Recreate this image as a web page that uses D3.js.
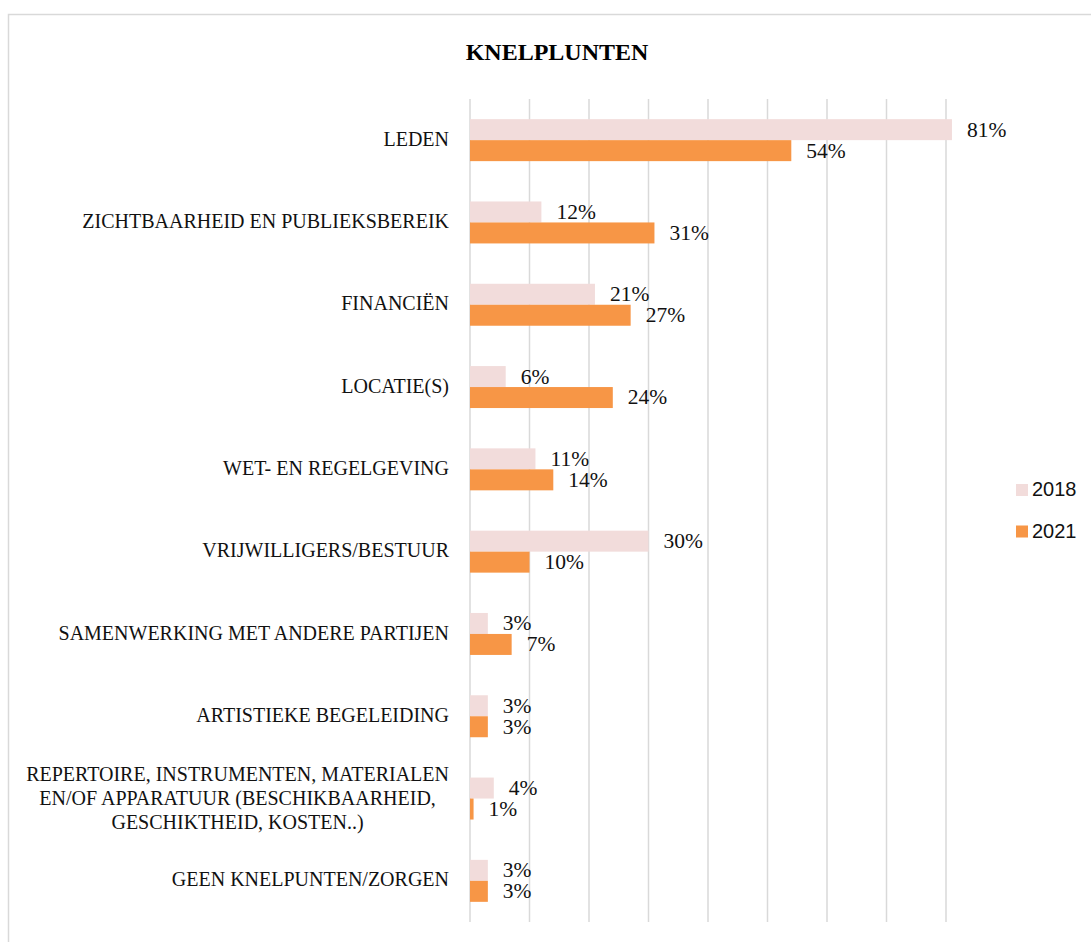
<!DOCTYPE html>
<html lang="nl">
<head>
    <meta charset="UTF-8">
    <script src="https://cdn.jsdelivr.net/npm/d3@7"></script>
    <title>Knelpunten</title>
    <style>
        body { margin: 0; background: #fff; }
        .cat { font-family: "Liberation Serif", serif; font-size: 20px; fill: #111; }
        .val { font-family: "Liberation Serif", serif; font-size: 21.5px; fill: #111; }
        .legend text { font-family: "Liberation Sans", sans-serif; font-size: 20px; fill: #111; }
        .title { font-family: "Liberation Serif", serif; font-weight: bold; font-size: 24px; fill: #000; }
        .grid line { stroke: #d9d9d9; stroke-width: 1.5px; }
    </style>
</head>
<body>
<svg id="chart" width="1091" height="942"></svg>

<script>
    // categories (top to bottom), multi-line labels split on "|"
    const categories = [
        "LEDEN",
        "ZICHTBAARHEID EN PUBLIEKSBEREIK",
        "FINANCIËN",
        "LOCATIE(S)",
        "WET- EN REGELGEVING",
        "VRIJWILLIGERS/BESTUUR",
        "SAMENWERKING MET ANDERE PARTIJEN",
        "ARTISTIEKE BEGELEIDING",
        "REPERTOIRE, INSTRUMENTEN, MATERIALEN|EN/OF APPARATUUR (BESCHIKBAARHEID,|GESCHIKTHEID, KOSTEN..)",
        "GEEN KNELPUNTEN/ZORGEN"
    ];
    const series = ["2018", "2021"];
    const values2018 = [0.81, 0.12, 0.21, 0.06, 0.11, 0.30, 0.03, 0.03, 0.04, 0.03];
    const values2021 = [0.54, 0.31, 0.27, 0.24, 0.14, 0.10, 0.07, 0.03, 0.006, 0.03];
    const xTicks = [0, 0.1, 0.2, 0.3, 0.4, 0.5, 0.6, 0.7, 0.8];
    const colors = { "2018": "#f2dcdb", "2021": "#f79646" };

    const rows = categories.map((c, i) => ({
        cat: c,
        vals: [
            { s: "2018", v: values2018[i] },
            { s: "2021", v: values2021[i] }
        ]
    }));

    const svg = d3.select("#chart");

    // chart area border
    svg.append("rect")
        .attr("x", 8.5).attr("y", 14.5)
        .attr("width", 1200).attr("height", 1000)
        .attr("fill", "none")
        .attr("stroke", "#d9d9d9")
        .attr("stroke-width", 1.5);

    svg.append("text")
        .attr("class", "title")
        .attr("x", 557).attr("y", 60)
        .attr("text-anchor", "middle")
        .text("KNELPLUNTEN");

    const x = d3.scaleLinear().domain([0, 0.8]).range([470, 946]);
    const y = d3.scaleBand().domain(categories).range([99, 922])
        .paddingInner(0.49).paddingOuter(0.245);
    const ySub = d3.scaleBand().domain(series).range([0, y.bandwidth()]);

    // vertical gridlines
    svg.append("g").attr("class", "grid")
        .selectAll("line")
        .data(xTicks)
        .join("line")
        .attr("x1", d => x(d)).attr("x2", d => x(d))
        .attr("y1", 99).attr("y2", 922);

    const groups = svg.append("g").selectAll("g.row")
        .data(rows)
        .join("g")
        .attr("class", "row")
        .attr("transform", d => `translate(0,${y(d.cat)})`);

    groups.selectAll("rect")
        .data(d => d.vals)
        .join("rect")
        .attr("x", x(0))
        .attr("y", d => ySub(d.s))
        .attr("width", d => x(d.v) - x(0))
        .attr("height", ySub.bandwidth())
        .attr("fill", d => colors[d.s]);

    groups.selectAll("text.val")
        .data(d => d.vals)
        .join("text")
        .attr("class", "val")
        .attr("x", d => x(d.v) + 15)
        .attr("y", d => ySub(d.s) + ySub.bandwidth() / 2 + 2)
        .attr("dominant-baseline", "middle")
        .text(d => d3.format(".0%")(d.v));

    // category labels, right aligned at the axis; wrapped lines centred on each other
    const labelRight = 449;
    const lineH = 24;
    groups.each(function (d) {
        const lines = d.cat.split("|");
        const t = d3.select(this).append("text")
            .attr("class", "cat")
            .attr("dominant-baseline", "middle");
        const mid = y.bandwidth() / 2;
        if (lines.length === 1) {
            t.attr("x", labelRight).attr("y", mid + 1)
                .attr("text-anchor", "end").text(lines[0]);
        } else {
            t.attr("text-anchor", "middle");
            const spans = t.selectAll("tspan").data(lines).join("tspan")
                .attr("y", (l, i) => mid + 1 + (i - (lines.length - 1) / 2) * lineH)
                .text(l => l);
            let w = 0;
            spans.each(function () { w = Math.max(w, this.getComputedTextLength()); });
            spans.attr("x", labelRight - w / 2);
        }
    });

    // legend
    const legend = svg.append("g").attr("class", "legend")
        .selectAll("g")
        .data(series)
        .join("g")
        .attr("transform", (d, i) => `translate(1016,${490 + i * 41.5})`);
    legend.append("rect")
        .attr("x", 0).attr("y", -6)
        .attr("width", 12).attr("height", 12)
        .attr("fill", d => colors[d]);
    legend.append("text")
        .attr("x", 16).attr("y", 1)
        .attr("dominant-baseline", "middle")
        .text(d => d);
</script>
</body>
</html>
